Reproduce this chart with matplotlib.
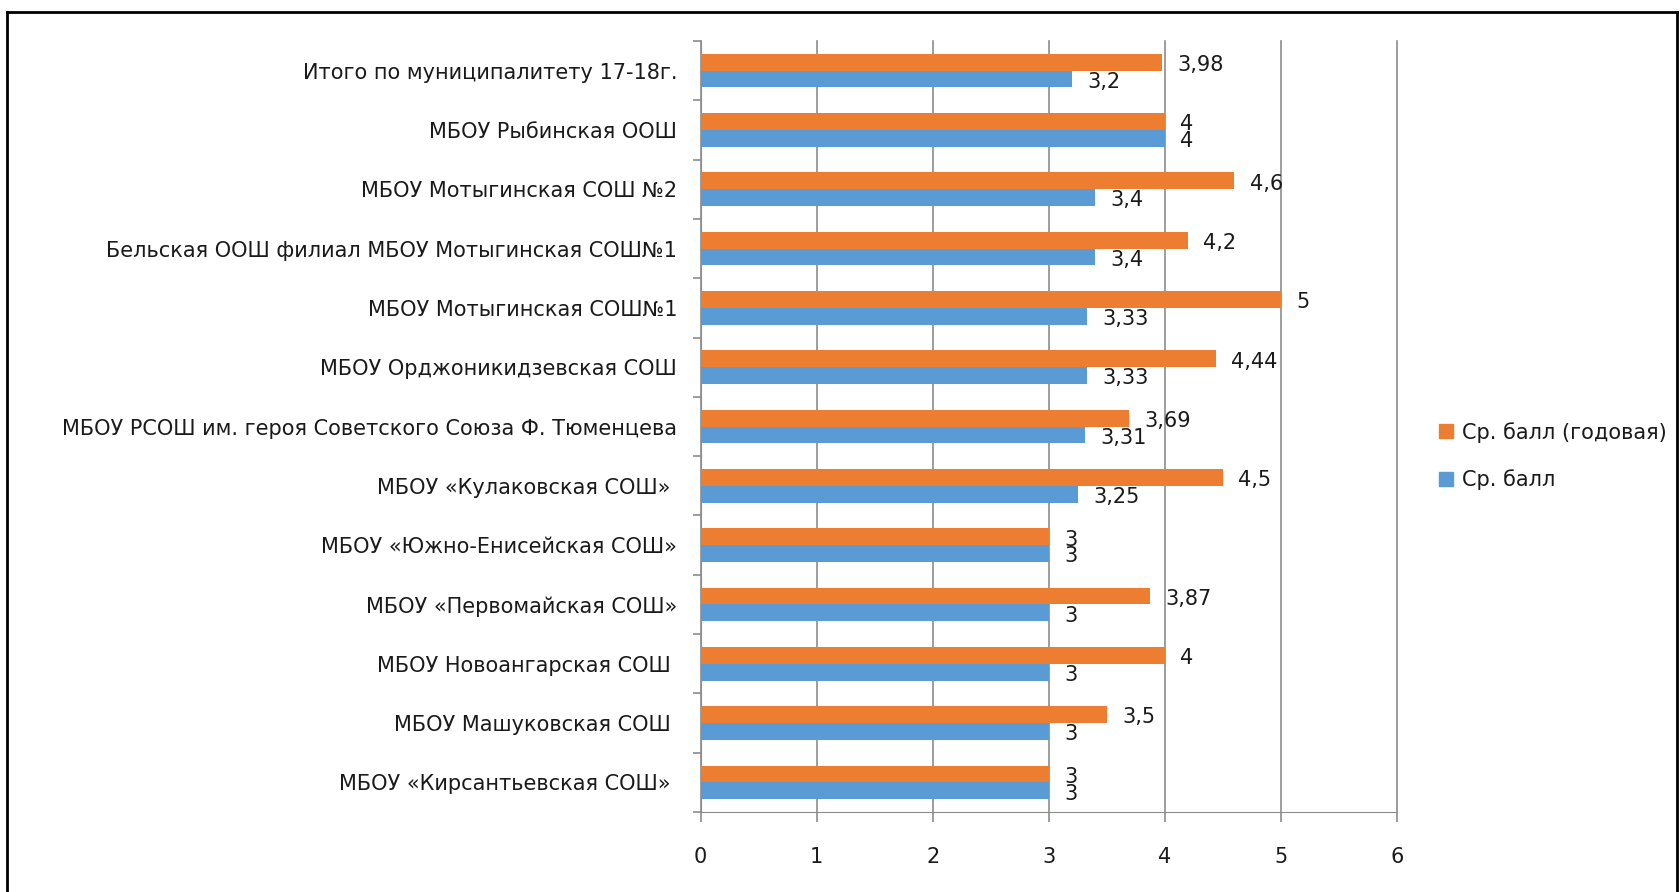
import numpy as np
import matplotlib.pyplot as plt
from matplotlib.lines import Line2D

schools = [
    "Итого по муниципалитету 17-18г.",
    "МБОУ Рыбинская ООШ",
    "МБОУ Мотыгинская СОШ №2",
    "Бельская ООШ филиал МБОУ Мотыгинская СОШ№1",
    "МБОУ Мотыгинская СОШ№1",
    "МБОУ Орджоникидзевская СОШ",
    "МБОУ РСОШ им. героя Советского Союза Ф. Тюменцева",
    "МБОУ «Кулаковская СОШ» ",
    "МБОУ «Южно-Енисейская СОШ»",
    "МБОУ «Первомайская СОШ»",
    "МБОУ Новоангарская СОШ ",
    "МБОУ Машуковская СОШ ",
    "МБОУ «Кирсантьевская СОШ» ",
]
avg_year = [3.98, 4, 4.6, 4.2, 5, 4.44, 3.69, 4.5, 3, 3.87, 4, 3.5, 3]
avg_score = [3.2, 4, 3.4, 3.4, 3.33, 3.33, 3.31, 3.25, 3, 3, 3, 3, 3]
x_ticks = [0, 1, 2, 3, 4, 5, 6]

c_year = '#ED7D31'
c_score = '#5B9BD5'
grid_c = '#8c8c8c'
txt_c = '#1a1a1a'

W, H = 1680, 892
fig = plt.figure(figsize=(W / 100, H / 100), dpi=100)
ax = fig.add_axes([700.7 / W, 1 - 812 / H, (1396.7 - 700.7) / W, (812 - 41) / H])

y = np.arange(len(schools))
h = 0.283
ax.barh(y - h / 2, avg_year, height=h, color=c_year, zorder=3)
ax.barh(y + h / 2, avg_score, height=h, color=c_score, zorder=3)

ax.set_xlim(0, 6)
ax.set_ylim(len(schools) - 0.5, -0.5)

# подписи значений
def fmt(v):
    return f"{v:g}".replace('.', ',')

for yi, v in zip(y - h / 2, avg_year):
    ax.annotate(fmt(v), (v, yi), xytext=(11, -2), textcoords='offset points',
                ha='left', va='center', fontsize=15, color=txt_c, zorder=4)
for yi, v in zip(y + h / 2, avg_score):
    ax.annotate(fmt(v), (v, yi), xytext=(11, -2), textcoords='offset points',
                ha='left', va='center', fontsize=15, color=txt_c, zorder=4)

# оси
for s in ['top', 'right']:
    ax.spines[s].set_visible(False)
ax.spines['left'].set_color(grid_c)
ax.spines['bottom'].set_color(grid_c)
ax.set_xticks(x_ticks)
ax.xaxis.grid(True, color=grid_c, lw=1.2, zorder=0)
for gl in ax.get_xgridlines():
    gl.set_clip_on(False)
ax.tick_params(axis='x', length=7, width=1.2, color=grid_c, labelsize=15, pad=18,
               labelcolor=txt_c)

ax.set_yticks(y)
ax.set_yticklabels(schools)
ax.set_yticks(np.arange(len(schools) + 1) - 0.5, minor=True)
ax.tick_params(axis='y', which='major', length=0, labelsize=15, pad=17, labelcolor=txt_c)
ax.tick_params(axis='y', which='minor', length=6, width=1.2, color=grid_c)

# легенда
handles = [Line2D([], [], marker='s', ls='', color=c_year, markersize=10),
           Line2D([], [], marker='s', ls='', color=c_score, markersize=10)]
fig.legend(handles, ['Ср. балл (годовая)', 'Ср. балл'], loc='upper left',
           bbox_to_anchor=(1421 / W, 1 - 403 / H), frameon=False, fontsize=15,
           handlelength=0.6, handletextpad=0.45, labelspacing=1.3, labelcolor=txt_c)

# внешняя рамка
fig.add_artist(Line2D([7 / W, 7 / W], [0, 1 - 12 / H], color='black', lw=2))
fig.add_artist(Line2D([7 / W, 1677 / W], [1 - 12 / H, 1 - 12 / H], color='black', lw=2))
fig.add_artist(Line2D([1677 / W, 1677 / W], [0, 1 - 12 / H], color='black', lw=2))

fig.savefig('out.png', dpi=100)
